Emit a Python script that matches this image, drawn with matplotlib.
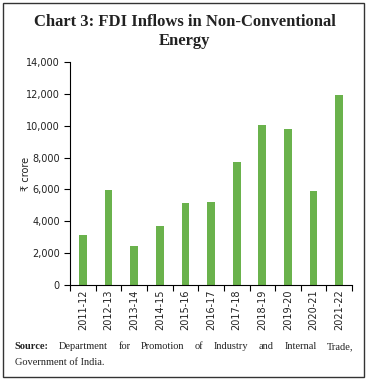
import matplotlib
matplotlib.use("Agg")
import matplotlib.pyplot as plt
from matplotlib.patches import Rectangle
from matplotlib.ticker import FuncFormatter, MultipleLocator

years = ["2011-12", "2012-13", "2013-14", "2014-15", "2015-16", "2016-17",
         "2017-18", "2018-19", "2019-20", "2020-21", "2021-22"]
fdi_inflows = [3130, 5950, 2450, 3700, 5120, 5220, 7740, 10050, 9780, 5920, 11930]

BAR_COLOR = "#6AB24C"
TEXT_COLOR = "#222222"
SERIF = ["Liberation Serif", "DejaVu Serif"]

fig = plt.figure(figsize=(3.69, 3.80), dpi=100)
ax = fig.add_axes([0.19, 0.25, 0.764, 0.587])

x = range(len(years))
ax.bar(x, fdi_inflows, width=0.3, color=BAR_COLOR, zorder=2)

ax.set_xlim(-0.5, len(years) - 0.5)
ax.set_ylim(0, 14000)
ax.yaxis.set_major_locator(MultipleLocator(2000))
ax.yaxis.set_major_formatter(FuncFormatter(lambda v, p: f"{int(v):,}"))

# category labels at bar centres, tick marks at category boundaries
ax.set_xticks([i + 0.5 for i in range(-1, len(years))])
ax.set_xticklabels([])
ax.set_xticks(list(x), minor=True)
ax.set_xticklabels(years, minor=True, rotation=90, fontsize=7, color=TEXT_COLOR)
ax.tick_params(axis="x", which="minor", length=0, pad=3)
ax.tick_params(axis="x", which="major", length=4, width=0.8, direction="out")
ax.tick_params(axis="y", labelsize=7, length=4, width=0.8, labelcolor=TEXT_COLOR)

for s in ["top", "right"]:
    ax.spines[s].set_visible(False)
for s in ["left", "bottom"]:
    ax.spines[s].set_linewidth(0.8)

ax.set_ylabel("\u20b9 crore", fontsize=7, color=TEXT_COLOR)
ax.yaxis.set_label_coords(-0.14, 0.5)

fig.text(0.5, 0.942, "Chart 3: FDI Inflows in Non-Conventional", ha="center",
         va="center", fontsize=12, fontweight="bold", family=SERIF, color=TEXT_COLOR)
fig.text(0.5, 0.893, "Energy", ha="center", va="center", fontsize=12,
         fontweight="bold", family=SERIF, color=TEXT_COLOR)

# source note, first line justified across the width
renderer = fig.canvas.get_renderer()
fig_w = fig.bbox.width
y1, y2 = 0.087, 0.047
left, right = 0.04, 0.958
src = fig.text(left, y1, "Source:", fontsize=7.5, fontweight="bold", family=SERIF,
               va="center", color=TEXT_COLOR)
words = ["Department", "for", "Promotion", "of", "Industry", "and", "Internal", "Trade,"]
items = [src] + [fig.text(0, y1, w, fontsize=7.5, family=SERIF, va="center",
                          color=TEXT_COLOR) for w in words]
widths = [t.get_window_extent(renderer).width / fig_w for t in items]
gap = (right - left - sum(widths)) / (len(items) - 1)
pos = left
for t, w in zip(items, widths):
    t.set_x(pos)
    pos += w + gap
fig.text(left, y2, "Government of India.", fontsize=7.5, family=SERIF,
         va="center", color=TEXT_COLOR)

fig.patches.append(Rectangle((0.008, 0.008), 0.979, 0.984, transform=fig.transFigure,
                             fill=False, edgecolor="#333333", linewidth=1.0))

fig.savefig("out.png", dpi=100)
